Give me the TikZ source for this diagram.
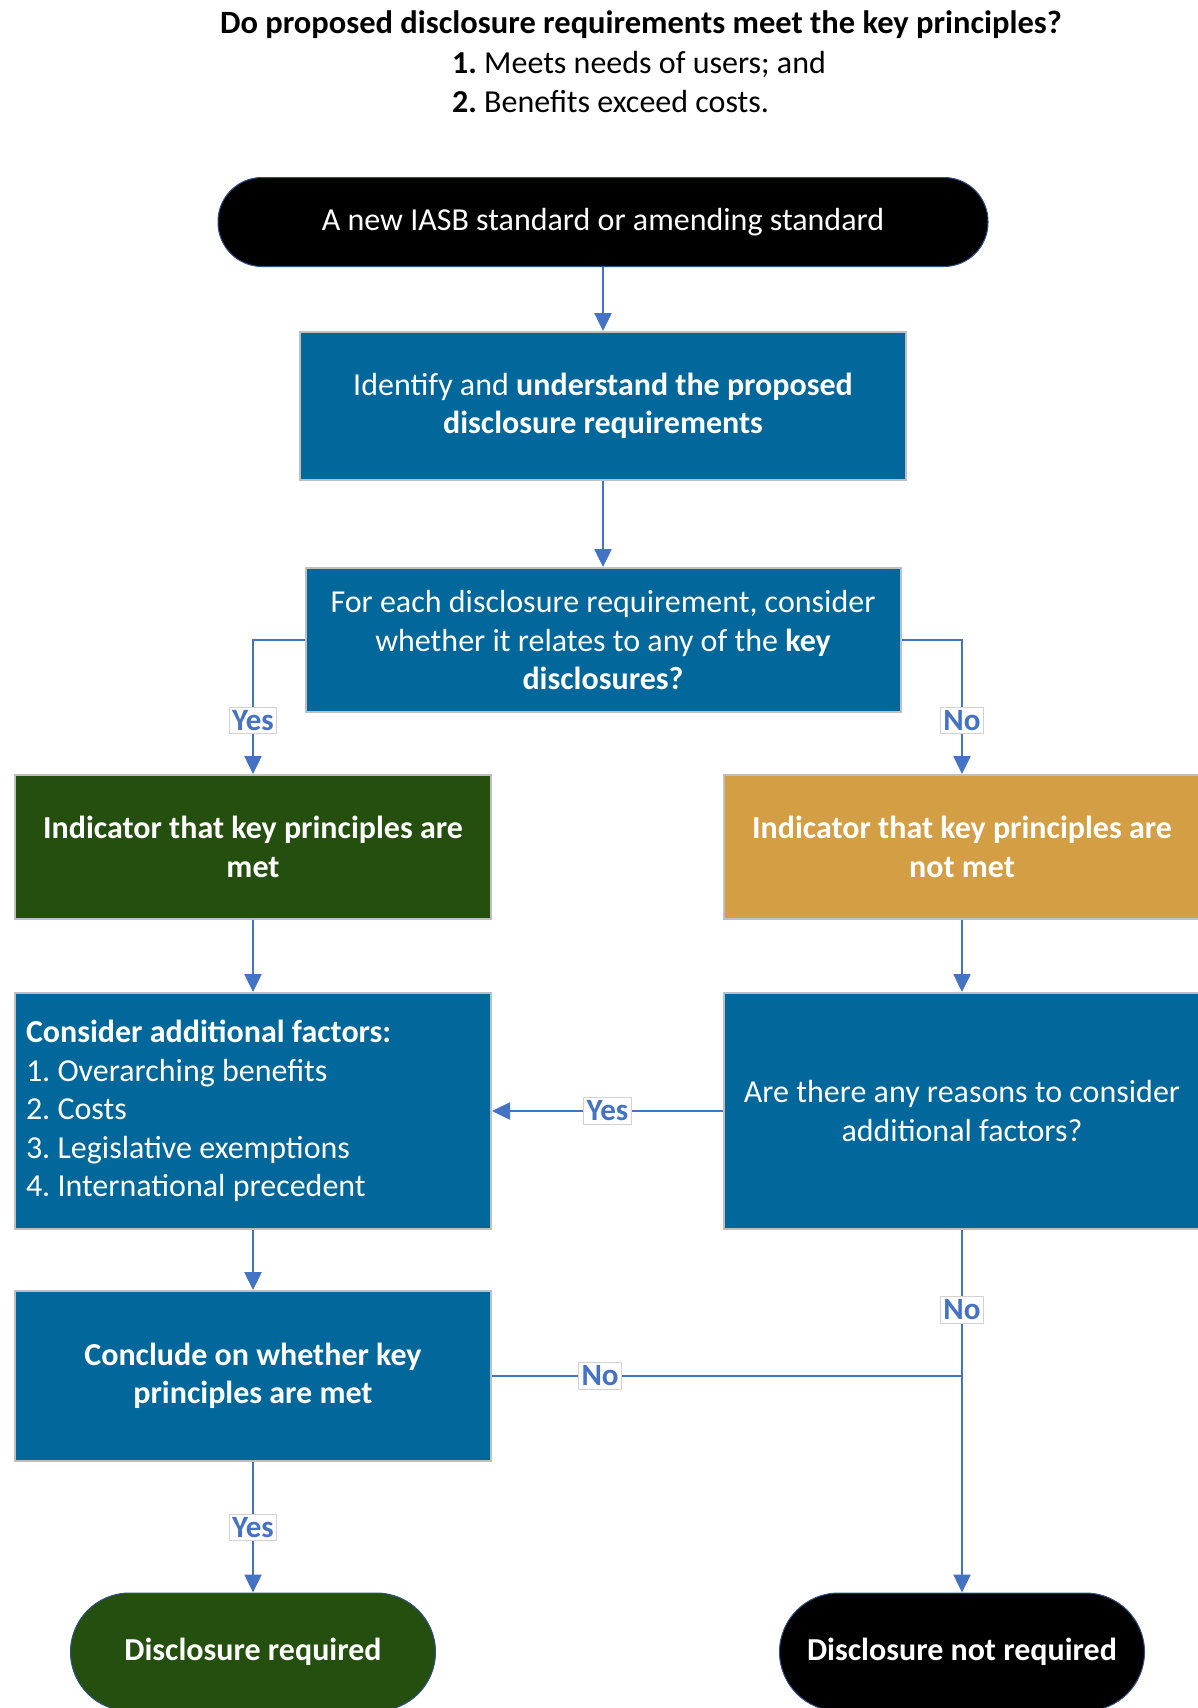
\documentclass[tikz,border=0pt]{standalone}
\usepackage{fontspec}
\setmainfont{Carlito}
\usepackage{xcolor}
\usepackage{tikz}
\usetikzlibrary{positioning,arrows.meta}
\definecolor{bleuBox}{RGB}{2,103,154}
\definecolor{vertFonce}{RGB}{37,79,14}
\definecolor{orangeBox}{RGB}{212,158,69}
\definecolor{bleuTrait}{RGB}{68,114,196}
\definecolor{grisBord}{RGB}{191,191,191}
\frenchspacing

\begin{document}
\begin{tikzpicture}[x=1pt, y=-1pt,
		every node/.style={font=\fontsize{32}{38.5}\selectfont},
		box/.style={rectangle, draw=grisBord, line width=2pt, fill=bleuBox,
			text=white, align=center, minimum width=476pt, minimum height=144pt},
		term/.style={rectangle, draw=bleuTrait!70!black, line width=1pt,
			text=white, align=center},
		lbl/.style={font=\fontsize{31}{36}\selectfont\bfseries, text=bleuTrait,
			fill=white, draw=grisBord!70, line width=0.8pt, inner sep=3pt},
		arr/.style={->, >={Triangle[length=18pt,width=17pt]}, line width=2.5pt, draw=bleuTrait},
		ligne/.style={line width=2.5pt, draw=bleuTrait},
		node distance=64pt
		]
		\fill[white] (0,0) rectangle (1198,1708);
		\useasboundingbox (0,0) rectangle (1198,1708);
		
		% question en tete
		\node[font=\fontsize{32.5}{38}\selectfont\bfseries] (titre) at (641,25)
			{Do proposed disclosure requirements meet the key principles?};
		\node[anchor=west, align=flush left, inner sep=0pt] (criteres) at (452,82)
			{\textbf{1.} Meets needs of users; and\\\textbf{2.} Benefits exceed costs.};
		
		% colonne centrale
		\node[term, fill=black, rounded corners=44pt, minimum width=770pt, minimum height=89pt]
			(debut) at (603,222) {A new IASB standard or amending standard};
		\node[box, minimum width=606pt, minimum height=148pt, below=64pt of debut] (identifier)
			{Identify and \textbf{understand the proposed}\\\textbf{disclosure requirements}};
		\node[box, minimum width=595pt, minimum height=144pt, below=86pt of identifier] (relie)
			{For each disclosure requirement, consider\\whether it relates to any of the \textbf{key}\\\textbf{disclosures?}};
		
		% branche gauche
		\node[box, fill=vertFonce, font=\fontsize{32}{38.5}\selectfont\bfseries] (atteint) at (253,847)
			{Indicator that key principles are\\met};
		\node[box, align=flush left, minimum height=236pt, text width=454pt, inner sep=11pt,
			below=72pt of atteint] (facteurs)
			{\textbf{Consider additional factors:}\\1. Overarching benefits\\2. Costs\\3. Legislative exemptions\\4. International precedent};
		\node[box, minimum height=170pt, font=\fontsize{32}{38.5}\selectfont\bfseries,
			below=60pt of facteurs] (conclure)
			{Conclude on whether key\\principles are met};
		\node[term, fill=vertFonce, rounded corners=59pt, minimum width=365pt, minimum height=118pt,
			font=\fontsize{32}{38.5}\selectfont\bfseries] (requis) at (253,1652) {Disclosure required};
		
		% branche droite
		\node[box, fill=orangeBox, font=\fontsize{32}{38.5}\selectfont\bfseries] (nonatteint) at (962,847)
			{Indicator that key principles are\\not met};
		\node[box, minimum height=236pt, below=72pt of nonatteint] (raisons)
			{Are there any reasons to consider\\additional factors?};
		\node[term, fill=black, rounded corners=59pt, minimum width=365pt, minimum height=118pt,
			font=\fontsize{32}{38.5}\selectfont\bfseries] (nonrequis) at (962,1652) {Disclosure not required};
		\coordinate (jonction) at (conclure.east -| raisons.south);
		
		\draw[arr] (debut) -- (identifier);
		\draw[arr] (identifier) -- (relie);
		\draw[arr] (relie.west) -| node[lbl, pos=0.8]{Yes} (atteint.north);
		\draw[arr] (relie.east) -| node[lbl, pos=0.8]{No} (nonatteint.north);
		\draw[arr] (atteint) -- (facteurs);
		\draw[arr] (nonatteint) -- (raisons);
		\draw[arr] (raisons) -- node[lbl]{Yes} (facteurs);
		\draw[arr] (facteurs) -- (conclure);
		\draw[arr] (raisons) -- node[lbl, pos=0.22]{No} (nonrequis);
		\draw[ligne] (conclure.east) -- node[lbl, pos=0.23]{No} (jonction);
		\draw[arr] (conclure) -- node[lbl]{Yes} (requis);
\end{tikzpicture}
\end{document}
